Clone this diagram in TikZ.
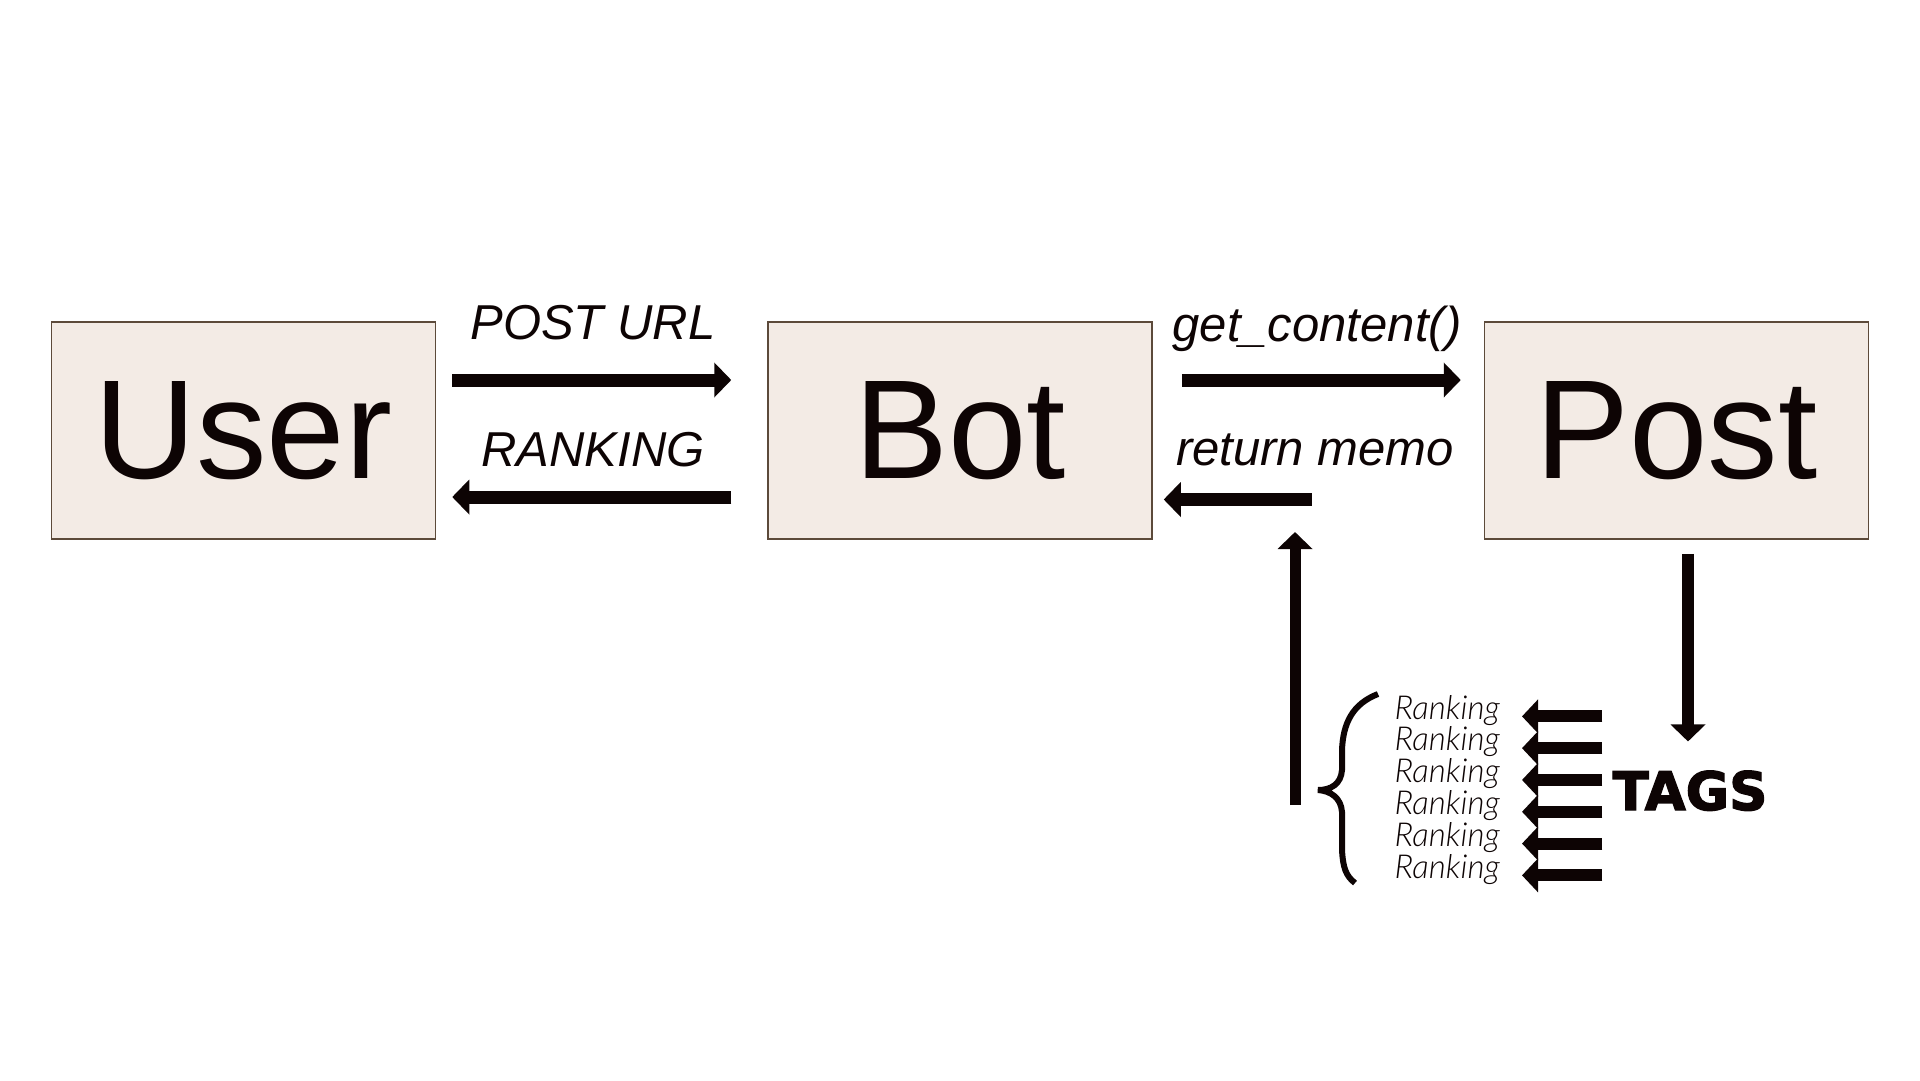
\documentclass[tikz,border=0pt]{standalone}
\usepackage{fontspec}
\setmainfont{Liberation Sans}
\newfontfamily\tagfont{DejaVu Sans}[BoldFont={DejaVu Sans Bold}, BoldFeatures={FakeBold=2.5}]
\newfontfamily\rankfont{Lato Light Italic}
\usetikzlibrary{arrows.meta,positioning,calc}
\definecolor{ink}{HTML}{0D0404}
\definecolor{boxfill}{HTML}{F3EBE5}
\definecolor{boxline}{HTML}{5C4A3A}
\tikzset{
  actor/.style={draw=boxline, fill=boxfill, line width=1.5pt, minimum width=384pt, minimum height=217pt, inner sep=0pt, text=ink, font=\fontsize{141}{141}\selectfont},
  msg/.style={text=ink, inner sep=0pt, anchor=base, font=\fontsize{49}{49}\selectfont\itshape},
  rank/.style={text=ink, inner sep=0pt, anchor=base east, font=\rankfont\fontsize{33}{33}\selectfont},
  arrow/.style={-{Triangle[width=34pt,length=17pt]}, line width=13pt, draw=ink},
  tagarrow/.style={-{Triangle[width=33pt,length=16pt]}, line width=12pt, draw=ink}
}
\begin{document}
\begin{tikzpicture}[x=1pt, y=-1pt, node distance=331pt]
  \useasboundingbox (0,0) rectangle (1920,1080);

  \node[actor] (user) at (243.5,430.5) {User};
  \node[actor, right=of user] (bot) {Bot};
  \node[actor, right=of bot] (post) {Post};

  \node[msg] (url) at (593,339) {POST URL};
  \node[msg] (ranking) at (593,466) {RANKING};
  \node[msg] (getc) at (1317,341) {get\_content()};
  \node[msg] (memo) at (1315,465) {return memo};

  \node[text=ink, inner sep=0pt, anchor=base, font=\tagfont\bfseries\fontsize{53}{53}\selectfont] (tags) at (1690,810) {TAGS};
  \foreach \i in {1,...,6}
    \node[rank] (r\i) at (1500,{719+31.8*(\i-1)}) {Ranking};

  \draw[arrow] ([xshift=16pt,yshift=50.5pt]user.east) -- ([xshift=-36pt,yshift=50.5pt]bot.west);
  \draw[arrow] ([xshift=-36pt,yshift=-66.5pt]bot.west) -- ([xshift=16pt,yshift=-66.5pt]user.east);
  \draw[arrow] ([xshift=29pt,yshift=50.5pt]bot.east) -- ([xshift=-23pt,yshift=50.5pt]post.west);
  \coordinate (memostart) at ([xshift=159pt,yshift=-69pt]bot.east);
  \draw[arrow] (memostart) -- ([xshift=11pt,yshift=-69pt]bot.east);

  % ranking list back up to the bot
  \coordinate (gather) at (1295,805);
  \draw[arrow, line width=11pt] (gather) -- ++(0,-273);
  \draw[arrow, line width=12pt] ($(post.south -| tags.north)+(-2,14)$) -- ($(tags.north)+(-2,-29)$);

  \foreach \i in {1,...,6}
    \draw[tagarrow] ([xshift=-10pt]tags.west |- r\i.mid) -- ([xshift=22pt]r\i.mid east);

  % brace
  \draw[ink, line width=6pt] (1378,694) .. controls (1352,704) and (1343,724) .. (1342,750) -- (1342,770)
    .. controls (1341,784) and (1331,790) .. (1318,790) .. controls (1331,791) and (1341,798) .. (1342,812)
    -- (1342,850) .. controls (1343,868) and (1346,876) .. (1355,883);
\end{tikzpicture}
\end{document}
